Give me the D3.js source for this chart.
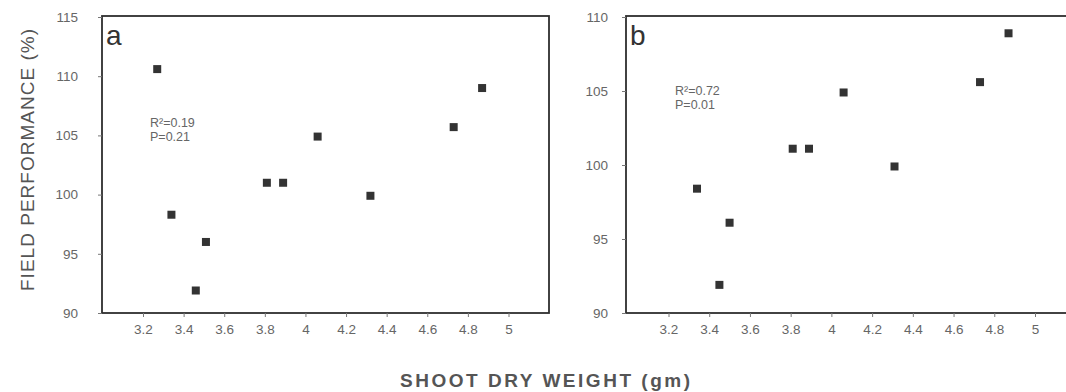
<!DOCTYPE html>
<html>
<head>
<meta charset="utf-8">
<script src="https://cdn.jsdelivr.net/npm/d3@7"></script>
<style>
  body { margin: 0; background: #fff; }
  svg { display: block; font-family: "Liberation Sans", Arial, sans-serif; }
  .tick text { fill: #666; }
  .tick line { stroke: #777; }
</style>
</head>
<body>
<div id="chart"></div>
<script>
// shared x ticks
const xTicks = [3.2, 3.4, 3.6, 3.8, 4, 4.2, 4.4, 4.6, 4.8, 5];
const xTickLabels = ["3.2", "3.4", "3.6", "3.8", "4", "4.2", "4.4", "4.6", "4.8", "5"];

// panel a
const yTicksA = [90, 95, 100, 105, 110, 115];
const weightA = [3.27, 3.34, 3.46, 3.51, 3.81, 3.89, 4.06, 4.32, 4.73, 4.87];
const perfA = [110.6, 98.3, 91.9, 96.0, 101.0, 101.0, 104.9, 99.9, 105.7, 109.0];
const statsA = ["R²=0.19", "P=0.21"];

// panel b
const yTicksB = [90, 95, 100, 105, 110];
const weightB = [3.34, 3.45, 3.50, 3.81, 3.89, 4.06, 4.31, 4.73, 4.87];
const perfB = [98.4, 91.9, 96.1, 101.1, 101.1, 104.9, 99.9, 105.6, 108.9];
const statsB = ["R²=0.72", "P=0.01"];

const W = 1066, H = 392;

const svg = d3.select("#chart").append("svg")
    .attr("width", W)
    .attr("height", H);

function panel(opts) {
    const g = svg.append("g");

    const x = d3.scaleLinear().domain([3.2, 5]).range(opts.xRange);
    const y = d3.scaleLinear().domain(opts.yDomain).range([313, 17]);

    // frame
    g.append("rect")
        .attr("x", opts.left).attr("y", 16)
        .attr("width", opts.right - opts.left).attr("height", 313 - 16)
        .attr("fill", "none")
        .attr("stroke", "#2e2e2e")
        .attr("stroke-width", 1.8);

    // axes
    const xAxis = g.append("g")
        .attr("transform", "translate(0,313)")
        .call(d3.axisBottom(x).tickValues(xTicks)
            .tickFormat((d, i) => xTickLabels[i])
            .tickSize(4).tickPadding(7).tickSizeOuter(0));
    xAxis.select(".domain").remove();
    xAxis.selectAll("text").style("font-size", "13.5px");

    const yAxis = g.append("g")
        .attr("transform", "translate(" + opts.left + ",0)")
        .call(d3.axisLeft(y).tickValues(opts.yTicks)
            .tickSize(4).tickPadding(opts.yPad).tickSizeOuter(0));
    yAxis.select(".domain").remove();
    yAxis.selectAll("text").style("font-size", "13.5px");

    // points
    g.selectAll(".pt").data(opts.wx)
        .enter().append("rect")
        .attr("class", "pt")
        .attr("x", (d) => x(d) - 4)
        .attr("y", (d, i) => y(opts.py[i]) - 4)
        .attr("width", 8).attr("height", 8)
        .attr("fill", "#333");

    // panel letter
    g.append("text")
        .text(opts.letter)
        .attr("x", opts.left + 4).attr("y", 45)
        .style("font-size", "28px")
        .style("fill", "#333");

    // stats
    g.selectAll(".stat").data(opts.stats)
        .enter().append("text")
        .attr("class", "stat")
        .text((d) => d)
        .attr("x", opts.statX)
        .attr("y", (d, i) => opts.statY + i * 14)
        .style("font-size", "12.5px")
        .style("fill", "#666");
}

panel({
    left: 102, right: 549, xRange: [143, 508.5],
    yDomain: [90, 115], yTicks: yTicksA, yPad: 20,
    wx: weightA, py: perfA, letter: "a",
    stats: statsA, statX: 150, statY: 127
});

panel({
    left: 626, right: 1080, xRange: [668.5, 1035],
    yDomain: [90, 110], yTicks: yTicksB, yPad: 14,
    wx: weightB, py: perfB, letter: "b",
    stats: statsB, statX: 675, statY: 95
});

// AXES LABELS
svg.append("text")
    .text("FIELD PERFORMANCE  (%)")
    .attr("transform", "translate(27,160) rotate(-90)")
    .attr("text-anchor", "middle")
    .attr("dominant-baseline", "central")
    .attr("textLength", 262)
    .attr("lengthAdjust", "spacing")
    .style("font-size", "19px")
    .style("fill", "#555");

svg.append("text")
    .text("SHOOT DRY WEIGHT (gm)")
    .attr("x", 545).attr("y", 387)
    .attr("text-anchor", "middle")
    .attr("textLength", 290)
    .attr("lengthAdjust", "spacing")
    .style("font-size", "19px")
    .style("font-weight", "bold")
    .style("fill", "#555");
</script>
</body>
</html>
